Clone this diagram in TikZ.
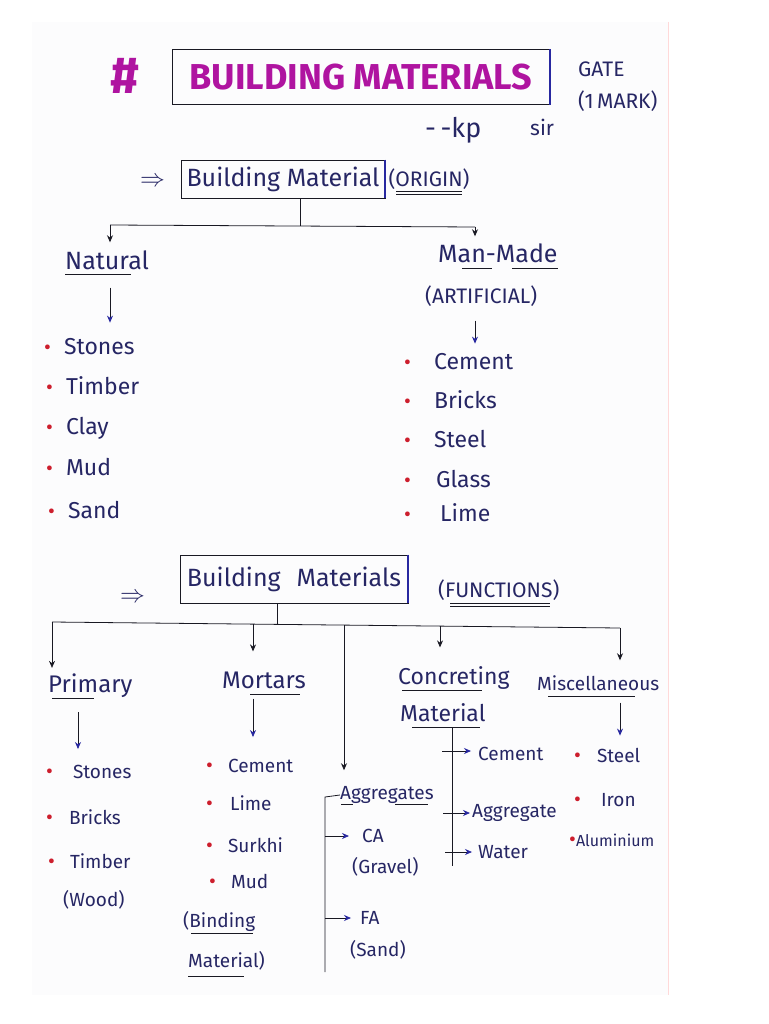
\documentclass[tikz,border=0pt]{standalone}
\usepackage{fontspec}
\setmainfont{Fira Sans}
\usetikzlibrary{arrows.meta,positioning,calc}
\definecolor{ink}{RGB}{38,38,100}
\definecolor{pen}{RGB}{25,25,35}
\definecolor{head}{RGB}{40,40,160}
\definecolor{mag}{RGB}{175,20,160}
\definecolor{dot}{RGB}{205,30,45}
\definecolor{paper}{RGB}{252,252,253}
\newcommand{\bul}[1][13pt]{\textcolor{dot}{\fontsize{21}{21}\selectfont\textbullet}\hspace{#1}}

\begin{document}
\begin{tikzpicture}[x=1pt, y=-1pt,
    >={Stealth[length=7pt,width=6pt]},
    word/.style={text=ink, inner sep=0pt, anchor=west, font=\fontsize{23}{27}\selectfont},
    word2/.style={word, font=\fontsize{19}{22}\selectfont},
    small/.style={word, font=\fontsize{21}{24}\selectfont},
    heading/.style={draw=pen, thick, text=ink, inner sep=2pt, font=\fontsize{25}{29}\selectfont},
    link/.style={draw=pen, thick},
    bluetip/.style={link, -{Stealth[length=7pt,width=6pt,color=head]}},
    under/.style={draw=pen, line width=0.9pt}
]
    % page
    \fill[white] (0,0) rectangle (768,1024);
    \useasboundingbox (0,0) rectangle (768,1024);
    \fill[paper] (32,22) rectangle (668,995);
    \draw[red!15, line width=1pt] (668,22) -- (668,995);

    % title
    \node[text=mag, font=\fontsize{52}{52}\selectfont\bfseries] (hash) at (125,76) {\#};
    \node[draw=pen, thick, minimum width=378pt, minimum height=55pt, text=mag, font=\fontsize{36}{36}\selectfont\bfseries] (title) at (361,77) {BUILDING MATERIALS};
    \draw[head, line width=2pt] (title.north east) -- (title.south east);
    \node[small] (gate) at (578,69) {GATE};
    \node[small] (mark) at (578,101) {(1\,MARK)};
    \node[word, font=\fontsize{27}{30}\selectfont] (kp) at (425,130) {-\,-kp};
    \node[small] (sir) at (530,127) {sir};

    % by origin
    \node[word] (imp1) at (140,182) {$\Rightarrow$};
    \node[heading, minimum width=204pt, minimum height=38pt] (origin) at (283,179) {Building Material};
    \draw[head, line width=2pt] (origin.north east) -- (origin.south east);
    \node[small, right=3pt of origin] (orig) {(ORIGIN)};
    \draw[under] ($(orig.base west)+(8,5)$) -- ++(66,0);
    \draw[under] ($(orig.base west)+(8,8)$) -- ++(66,0);

    \coordinate (o-j) at (300,226);
    \coordinate (o-l) at (110,225);
    \coordinate (o-r) at (475,227);
    \draw[link] (origin.south -| o-j) -- (o-j);
    \draw[link] (o-l) -- (o-r);

    \node[word, font=\fontsize{25}{29}\selectfont] (nat) at (65,260) {Natural};
    \draw[under] ($(nat.base west)+(0,5)$) -- ++(66,0);
    \node[word, font=\fontsize{25}{29}\selectfont] (man) at (438,253) {Man-Made};
    \draw[under] ($(man.base west)+(24,6)$) -- ++(30,0);
    \draw[under] ($(man.base west)+(74,6)$) -- ++(46,0);
    \node[small] (art) at (425,296) {(ARTIFICIAL)};
    \draw[link, ->, shorten >=8pt] (o-l) -- (o-l |- nat.north);
    \draw[link, ->, shorten >=7pt] (o-r) -- (o-r |- man.north);

    \node[word] (n1) at (44,347) {\bul Stones};
    \node[word] (n2) at (46,386) {\bul Timber};
    \node[word] (n3) at (46,428) {\bul Clay};
    \node[word] (n4) at (46,467) {\bul Mud};
    \node[word] (n5) at (48,510) {\bul Sand};
    \draw[bluetip, shorten <=18pt, shorten >=16pt] (nat.south -| o-l) -- (o-l |- n1.north);

    \node[word] (m1) at (404,362) {\bul[17pt] Cement};
    \node[word] (m2) at (404,400) {\bul[17pt] Bricks};
    \node[word] (m3) at (404,439) {\bul[17pt] Steel};
    \node[word] (m4) at (404,479) {\bul[19pt] Glass};
    \node[word] (m5) at (404,513) {\bul[23pt] Lime};
    \draw[bluetip, shorten <=14pt, shorten >=10pt] (art.south -| o-r) -- (o-r |- m1.north);

    % by function
    \node[word] (imp2) at (120,598) {$\Rightarrow$};
    \node[heading, minimum width=228pt, minimum height=48pt] (func) at (294,579) {Building\hspace{16pt}Materials};
    \draw[head, line width=2pt] (func.north east) -- (func.south east);
    \node[small] (fn) at (438,590) {(FUNCTIONS)};
    \draw[under] ($(fn.base west)+(12,6)$) -- ++(100,0);
    \draw[under] ($(fn.base west)+(12,9)$) -- ++(100,0);

    \coordinate (f-j) at (277,624);
    \coordinate (f-l) at (52,622);
    \coordinate (f-r) at (620,628);
    \coordinate (f-b) at (253,624);
    \coordinate (f-c) at (344,625);
    \coordinate (f-d) at (440,626);
    \draw[link] (func.south -| f-j) -- (f-j);
    \draw[link] (f-l) -- (f-r);

    \node[word, font=\fontsize{24}{28}\selectfont] (prim) at (48,686) {Primary};
    \draw[under] ($(prim.base west)+(4,6)$) -- ++(42,0);
    \node[word, font=\fontsize{24}{28}\selectfont] (mort) at (222,680) {Mortars};
    \draw[under] ($(mort.base west)+(28,6)$) -- ++(50,0);
    \node[word] (conc) at (398,678) {Concreting};
    \draw[under] ($(conc.base west)+(4,6)$) -- ++(80,0);
    \node[word] (cmat) at (400,713) {Material};
    \draw[under] ($(cmat.base west)+(12,6)$) -- ++(68,0);
    \node[word2] (misc) at (537,683) {Miscellaneous};
    \draw[under] ($(misc.base west)+(11,6)$) -- ++(87,0);

    \draw[link, ->, shorten >=6pt] (f-l) -- (f-l |- prim.north);
    \draw[link, ->, shorten >=20pt] (f-b) -- (f-b |- mort.north);
    \draw[link, ->, shorten >=19pt] (f-d) -- (f-d |- conc.north);
    \draw[link, ->, shorten >=15pt] (f-r) -- (f-r |- misc.north);

    % primary
    \node[word2] (p1) at (46,772) {\bul[15pt] Stones};
    \node[word2] (p2) at (46,817) {\bul[11pt] Bricks};
    \node[word2] (p3) at (48,861) {\bul[10pt] Timber};
    \node[word2] (p4) at (63,900) {(Wood)};
    \draw[bluetip, shorten <=14pt, shorten >=16pt] (prim.south -| 78,0) -- (78,0 |- p1.north);

    % mortars
    \node[word2] (r1) at (206,766) {\bul[10pt] Cement};
    \node[word2] (r2) at (206,803) {\bul[12pt] Lime};
    \node[word2] (r3) at (206,845) {\bul[10pt] Surkhi};
    \node[word2] (r4) at (209,881) {\bul[10pt] Mud};
    \node[word2] (r5) at (183,921) {(Binding};
    \draw[under] ($(r5.base west)+(8,6)$) -- ++(62,0);
    \node[word2] (r6) at (188,961) {Material)};
    \draw[under] ($(r6.base west)+(0,9)$) -- ++(56,0);
    \draw[bluetip, shorten <=10pt, shorten >=22pt] (mort.south -| f-b) -- (f-b |- r1.north);

    % aggregates
    \node[word2] (agg) at (340,795) {Aggregates};
    \draw[under] ($(agg.base west)+(1,5)$) -- ++(12,0);
    \draw[under] ($(agg.base west)+(55,5)$) -- ++(33,0);
    \draw[link, ->, shorten >=16pt] (f-c) -- (f-c |- agg.north);
    \coordinate (g-t) at (325,797);
    \coordinate (g-b) at (325,972);
    \draw[link] (agg.west) -- (g-t) -- (g-b);
    \node[word2] (ca) at (362,836) {CA};
    \node[word2] (grav) at (352,867) {(Gravel)};
    \node[word2] (fa) at (360,918) {FA};
    \node[word2] (sand) at (350,950) {(Sand)};
    \draw[bluetip, shorten >=13pt] (g-t |- ca) -- (ca.west);
    \draw[bluetip, shorten >=9pt] (g-t |- fa) -- (fa.west);

    % concreting
    \coordinate (c-t) at (452,727);
    \coordinate (c-b) at (452,866);
    \draw[link] (c-t) -- (c-b);
    \node[word2] (k1) at (478,754) {Cement};
    \node[word2] (k2) at (472,813) {Aggregate};
    \node[word2] (k3) at (478,852) {Water};
    \draw[bluetip, shorten >=7pt] ($(c-t |- k1)+(-10,-3)$) -- ($(k1.west)+(0,-3)$);
    \draw[bluetip, shorten >=2pt] ($(c-t |- k2)+(-9,0)$) -- (k2.west);
    \draw[bluetip, shorten >=6pt] ($(c-t |- k3)+(-7,0)$) -- (k3.west);

    % miscellaneous
    \node[word2] (s1) at (574,755) {\bul[11pt] Steel};
    \node[word2] (s2) at (574,800) {\bul[15pt] Iron};
    \node[word2, font=\fontsize{16}{19}\selectfont] (s3) at (569,840) {\bul[0pt]Aluminium};
    \draw[bluetip, shorten <=12pt, shorten >=12pt] (misc.south -| f-r) -- (f-r |- s1.north);
\end{tikzpicture}
\end{document}
